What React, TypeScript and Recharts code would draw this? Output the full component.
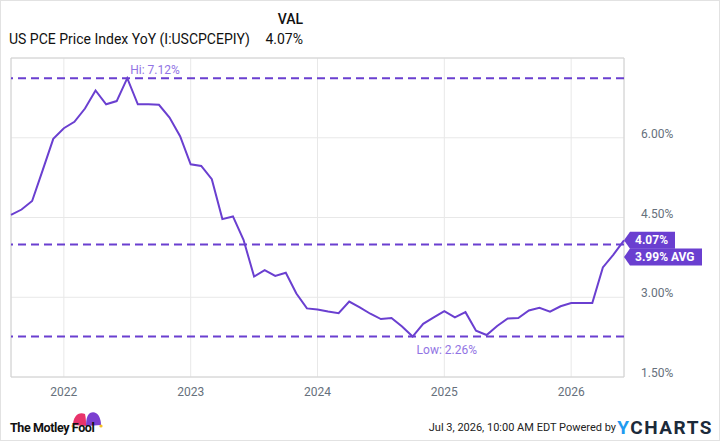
import React from 'react';
import { LineChart, Line, XAxis, YAxis, CartesianGrid, ReferenceLine, ReferenceDot, ReferenceArea } from 'recharts';

// monthly observations, Aug 2021 .. Jun 2026
const months = [
  '2021-08', '2021-09', '2021-10', '2021-11', '2021-12',
  '2022-01', '2022-02', '2022-03', '2022-04', '2022-05', '2022-06', '2022-07', '2022-08', '2022-09', '2022-10', '2022-11', '2022-12',
  '2023-01', '2023-02', '2023-03', '2023-04', '2023-05', '2023-06', '2023-07', '2023-08', '2023-09', '2023-10', '2023-11', '2023-12',
  '2024-01', '2024-02', '2024-03', '2024-04', '2024-05', '2024-06', '2024-07', '2024-08', '2024-09', '2024-10', '2024-11', '2024-12',
  '2025-01', '2025-02', '2025-03', '2025-04', '2025-05', '2025-06', '2025-07', '2025-08', '2025-09', '2025-10', '2025-11', '2025-12',
  '2026-01', '2026-02', '2026-03', '2026-04', '2026-05', '2026-06',
];

const pceYoY = [
  4.55, 4.65, 4.81, 5.39, 5.98,
  6.18, 6.30, 6.55, 6.89, 6.63, 6.69, 7.12, 6.63, 6.63, 6.62, 6.38, 6.03,
  5.50, 5.47, 5.22, 4.47, 4.52, 4.08, 3.39, 3.51, 3.40, 3.46, 3.07, 2.79,
  2.77, 2.73, 2.70, 2.92, 2.81, 2.69, 2.59, 2.61, 2.45, 2.26, 2.50, 2.62,
  2.74, 2.62, 2.72, 2.37, 2.29, 2.46, 2.60, 2.61, 2.75, 2.80, 2.73, 2.83,
  2.89, 2.89, 2.89, 3.56, 3.80, 4.07,
];

const yTicks = [1.5, 3.0, 4.5, 6.0, 7.5];
const yDomain = [1.5, 7.5];
const hiValue = 7.12;
const lowValue = 2.26;
const avgValue = 3.99;
const lastValue = 4.07;

const PURPLE = '#6a3fd0';
const LABEL_PURPLE = '#9274e4';
const AXIS_GREY = '#66707c';
const FONT = 'Roboto, "Noto Sans", Arial, sans-serif';

const data = months.map((m, i) => ({ i, month: m, value: pceYoY[i] }));
const yearTicks = data.filter((d) => d.month.endsWith('-01')).map((d) => d.i);
const hiIndex = pceYoY.indexOf(hiValue);
const lowIndex = pceYoY.indexOf(lowValue);

function Tag({ x, y, text, w }: { x: number; y: number; text: string; w: number }) {
  const h = 8.5;
  const d = `M${x},${y} L${x + 6},${y - h} L${x + w},${y - h} L${x + w},${y + h} L${x + 6},${y + h} Z`;
  return (
    <g>
      <path d={d} fill={PURPLE} />
      <text x={x + 11} y={y} dominantBaseline="central" fill="#fff" fontSize={12} fontWeight={700} fontFamily={FONT}>
        {text}
      </text>
    </g>
  );
}

function YTick(props: any) {
  const { x, y, payload } = props;
  if (payload.value === 7.5) return <g />;
  return (
    <text x={x + 9} y={y - 4} dominantBaseline="central" fill={AXIS_GREY} fontSize={12} fontFamily={FONT}>
      {payload.value.toFixed(2)}%
    </text>
  );
}

function XTick(props: any) {
  const { x, y, payload } = props;
  return (
    <text x={x} y={y + 7} textAnchor="middle" dominantBaseline="central" fill={AXIS_GREY} fontSize={12} fontFamily={FONT}>
      {months[payload.value].slice(0, 4)}
    </text>
  );
}

function JesterHat() {
  return (
    <svg width={32} height={18} viewBox="0 0 32 18" style={{ position: 'absolute', left: 71, top: 410 }}>
      <path d="M2,15 C2,6 8,1 14,4 C15,8 15,12 15,16 Z" fill="#e8336b" />
      <path d="M15,16 C15,10 16,5 19,3 C25,0 30,6 30,15 Z" fill="#7b3fd0" />
      <circle cx={2} cy={16} r={1.6} fill="#f6c026" />
      <circle cx={30} cy={16} r={1.6} fill="#f6c026" />
    </svg>
  );
}

export default function App() {
  return (
    <div
      style={{
        position: 'absolute',
        left: 0,
        top: 0,
        width: 720,
        height: 441,
        background: '#fff',
        boxShadow: 'inset 0 0 0 1px #e2e2e2',
        fontFamily: FONT,
        overflow: 'hidden',
      }}
    >
      {/* header */}
      <div style={{ position: 'absolute', left: 200, width: 103, top: 11, textAlign: 'right', fontSize: 14, fontWeight: 500, color: '#111' }}>
        VAL
      </div>
      <div style={{ position: 'absolute', left: 9, top: 31, fontSize: 14, color: '#111' }}>US PCE Price Index YoY (I:USCPCEPIY)</div>
      <div style={{ position: 'absolute', left: 200, width: 103, top: 31, textAlign: 'right', fontSize: 14, color: '#111' }}>
        4.07%
      </div>

      <div style={{ position: 'absolute', left: 0, top: 0 }}>
        <LineChart width={720} height={400} data={data} margin={{ top: 58, right: 0, left: 11, bottom: 0 }}>
          <CartesianGrid stroke="#e8e8e8" strokeWidth={1} />
          <XAxis
            dataKey="i"
            type="number"
            domain={[0, months.length - 1]}
            ticks={yearTicks}
            height={23}
            tickLine={false}
            axisLine={false}
            tick={<XTick />}
            interval={0}
          />
          <YAxis
            orientation="right"
            type="number"
            domain={yDomain}
            ticks={yTicks}
            width={96}
            tickLine={false}
            axisLine={false}
            tick={<YTick />}
            interval={0}
          />
          <ReferenceArea x1={0} x2={months.length - 1} y1={yDomain[0]} y2={yDomain[1]} fill="none" stroke="#d2d2d2" />
          <ReferenceLine y={hiValue} stroke={PURPLE} strokeWidth={2} strokeDasharray="8 5" />
          <ReferenceLine y={lowValue} stroke={PURPLE} strokeWidth={2} strokeDasharray="8 5" />
          <ReferenceLine
            y={avgValue}
            stroke={PURPLE}
            strokeWidth={2}
            strokeDasharray="8 5"
            label={(p: any) => <Tag x={p.viewBox.x + p.viewBox.width} y={p.viewBox.y + 12.5} text="3.99% AVG" w={78} />}
          />
          <Line
            type="linear"
            dataKey="value"
            stroke={PURPLE}
            strokeWidth={2}
            dot={false}
            activeDot={false}
            isAnimationActive={false}
          />
          <ReferenceDot
            x={hiIndex}
            y={hiValue}
            r={0}
            stroke="none"
            label={(p: any) => (
              <text x={p.viewBox.x + 3} y={p.viewBox.y - 8} dominantBaseline="central" fill={LABEL_PURPLE} fontSize={12} fontFamily={FONT}>
                Hi: 7.12%
              </text>
            )}
          />
          <ReferenceDot
            x={lowIndex}
            y={lowValue}
            r={0}
            stroke="none"
            label={(p: any) => (
              <text x={p.viewBox.x + 4} y={p.viewBox.y + 13} dominantBaseline="central" fill={LABEL_PURPLE} fontSize={12} fontFamily={FONT}>
                Low: 2.26%
              </text>
            )}
          />
          <ReferenceDot
            x={months.length - 1}
            y={lastValue}
            r={0}
            stroke="none"
            label={(p: any) => <Tag x={p.viewBox.x} y={p.viewBox.y} text="4.07%" w={51} />}
          />
        </LineChart>
      </div>

      {/* footer */}
      <JesterHat />
      <div style={{ position: 'absolute', left: 10, top: 420, fontSize: 12.5, fontWeight: 700, color: '#111', letterSpacing: -0.4 }}>
        The Motley Fool
      </div>
      <div style={{ position: 'absolute', right: 104, top: 421, fontSize: 11, color: '#222' }}>Jul 3, 2026, 10:00 AM EDT Powered by</div>
      <div style={{ position: 'absolute', right: 7, top: 416, fontSize: 19, fontWeight: 700, letterSpacing: 1.5, color: '#1c2a3a' }}>
        <span style={{ color: '#1e9bf0' }}>Y</span>CHARTS
      </div>
    </div>
  );
}
